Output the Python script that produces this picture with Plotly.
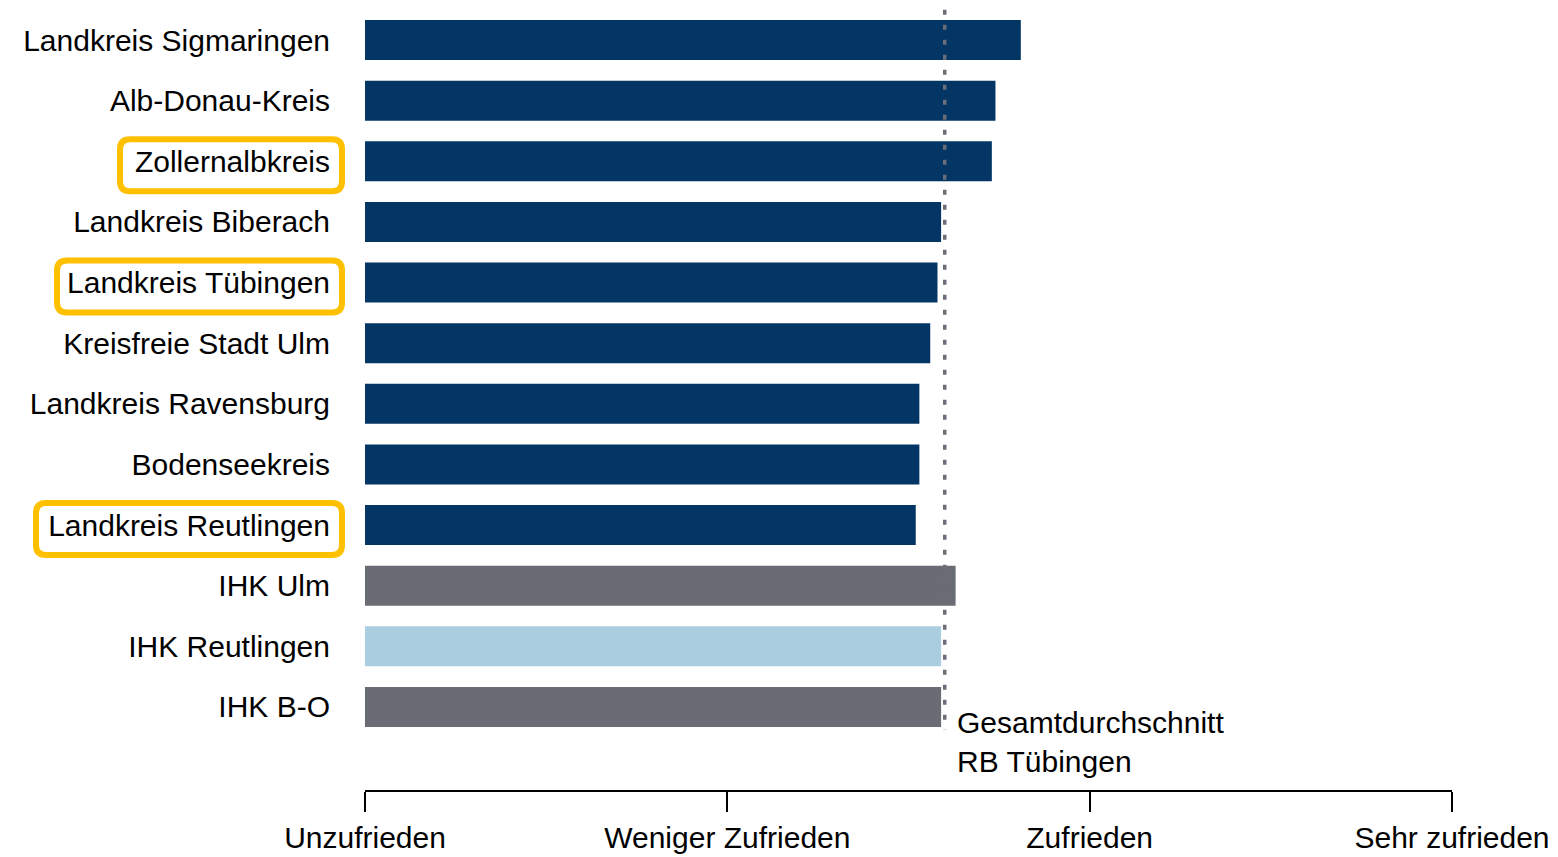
import plotly.graph_objects as go

# ---- data ----
categories = [
    "Landkreis Sigmaringen", "Alb-Donau-Kreis", "Zollernalbkreis",
    "Landkreis Biberach", "Landkreis Tübingen", "Kreisfreie Stadt Ulm",
    "Landkreis Ravensburg", "Bodenseekreis", "Landkreis Reutlingen",
    "IHK Ulm", "IHK Reutlingen", "IHK B-O",
]
values = [2.81, 2.74, 2.73, 2.59, 2.58, 2.56, 2.53, 2.53, 2.52, 2.63, 2.59, 2.59]
bar_colors = ["#033665"] * 9 + ["#6a6c75", "#abcde0", "#6a6c75"]
average_value = 2.60
average_label = "Gesamtdurchschnitt<br>RB Tübingen"
highlighted = ["Zollernalbkreis", "Landkreis Tübingen", "Landkreis Reutlingen"]
highlight_left_px = {"Zollernalbkreis": -245, "Landkreis Tübingen": -308, "Landkreis Reutlingen": -329}
scale_vals = [1, 2, 3, 4]
scale_text = ["Unzufrieden", "Weniger Zufrieden", "Zufrieden", "Sehr zufrieden"]

FONT = "Liberation Sans, Arial, sans-serif"

fig = go.Figure()
fig.add_trace(go.Bar(
    y=categories, x=values, orientation="h",
    marker=dict(color=bar_colors, line=dict(width=0)),
    width=0.66, showlegend=False, hoverinfo="x+y",
))

shapes = []
# dotted average line
shapes.append(dict(
    type="line", xref="x", yref="y",
    x0=average_value, x1=average_value, y0=-0.5, y1=11.38,
    line=dict(color="#6b6e78", width=3.5, dash="5px,10px"),
    layer="above",
))


def rounded_path(x0, x1, y0, y1, r):
    return (f"M {x0+r},{y1} L {x1-r},{y1} Q {x1},{y1} {x1},{y1-r} "
            f"L {x1},{y0+r} Q {x1},{y0} {x1-r},{y0} L {x0+r},{y0} "
            f"Q {x0},{y0} {x0},{y0+r} L {x0},{y1-r} Q {x0},{y1} {x0+r},{y1} Z")


for name in highlighted:
    idx = categories.index(name)
    shapes.append(dict(
        type="path", xref="paper", yref="y",
        xsizemode="pixel", ysizemode="pixel",
        xanchor=0, yanchor=idx,
        path=rounded_path(highlight_left_px[name], -23, -30, 22, 10),
        line=dict(color="#ffc000", width=6),
        fillcolor="rgba(0,0,0,0)",
    ))

fig.update_layout(
    width=1558, height=857,
    margin=dict(l=365, r=106, t=0, b=67),
    paper_bgcolor="white", plot_bgcolor="white",
    font=dict(family=FONT, size=30, color="black"),
    shapes=shapes,
    annotations=[dict(
        x=average_value, y=11, xref="x", yref="y",
        text=average_label, showarrow=False,
        xanchor="left", yanchor="middle", align="left",
        xshift=10, yshift=-35,
        font=dict(family=FONT, size=30, color="black"),
    )],
)
fig.update_xaxes(
    range=[1, 4], tickvals=scale_vals, ticktext=scale_text,
    showline=True, linecolor="black", linewidth=2,
    ticks="outside", ticklen=20, tickwidth=2, tickcolor="black",
    showgrid=False, zeroline=False,
    tickfont=dict(family=FONT, size=30, color="black"),
)
fig.update_yaxes(
    type="category", range=[12.37, -0.66],
    showline=False, ticks="", showgrid=False, zeroline=False,
    ticklabelstandoff=34,
    tickfont=dict(family=FONT, size=30, color="black"),
)

fig.write_html(
    "out.html",
    config={"displayModeBar": False},
    post_script="document.body.style.margin='0';document.body.style.overflow='hidden';",
)
